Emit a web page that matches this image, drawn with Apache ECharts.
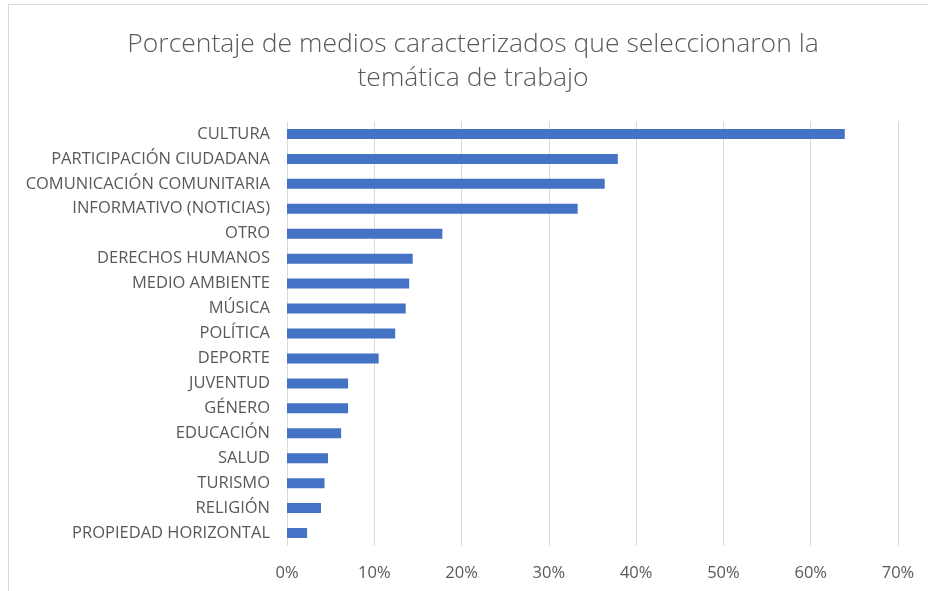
<!DOCTYPE html>
<html><head><meta charset="utf-8">
<script src="https://cdn.jsdelivr.net/npm/echarts@6/dist/echarts.min.js"></script>
<style>
html,body{margin:0;padding:0;background:#fff;overflow:hidden;}
#frame{position:absolute;left:8px;top:4px;width:930px;height:600px;border:1px solid #d9d9d9;box-sizing:border-box;}
#chart{position:absolute;left:0;top:0;width:928px;height:591px;}
</style></head>
<body>
<div id="frame"></div>
<div id="chart"></div>
<script>
const categories = ["CULTURA","PARTICIPACIÓN CIUDADANA","COMUNICACIÓN COMUNITARIA","INFORMATIVO (NOTICIAS)","OTRO","DERECHOS HUMANOS","MEDIO AMBIENTE","MÚSICA","POLÍTICA","DEPORTE","JUVENTUD","GÉNERO","EDUCACIÓN","SALUD","TURISMO","RELIGIÓN","PROPIEDAD HORIZONTAL"];
const values = [0.639,0.379,0.364,0.333,0.178,0.144,0.140,0.136,0.124,0.105,0.070,0.070,0.062,0.047,0.043,0.039,0.023];
const xTicks = [0,0.1,0.2,0.3,0.4,0.5,0.6,0.7];
const titleText = "Porcentaje de medios caracterizados que seleccionaron la\ntemática de trabajo";

const chart = echarts.init(document.getElementById('chart'), null, {renderer:'canvas'});
const font = "'Open Sans', sans-serif";
chart.setOption({
  animation:false,
  backgroundColor:'transparent',
  title:{text:titleText,left:468,textAlign:'center',top:22.5,
    textStyle:{fontFamily:font,fontSize:26.5,fontWeight:300,color:'#595959',lineHeight:34}},
  grid:{left:287,right:30,top:121.5,bottom:45.5,containLabel:false},
  xAxis:{type:'value',min:xTicks[0],max:xTicks[xTicks.length-1],interval:0.1,
    axisLine:{show:false},axisTick:{show:false},
    splitLine:{lineStyle:{color:'#d9d9d9',width:1}},
    axisLabel:{color:'#595959',fontFamily:font,fontSize:16.5,margin:19,
      formatter:v=>Math.round(v*100)+'%'}},
  yAxis:{type:'category',data:categories,inverse:true,
    axisLine:{show:false},axisTick:{show:false},
    axisLabel:{color:'#595959',fontFamily:font,fontSize:16.5,margin:17}},
  series:[{type:'bar',data:values,barWidth:10,itemStyle:{color:'#4472c4'}}]
});
</script>
</body></html>
